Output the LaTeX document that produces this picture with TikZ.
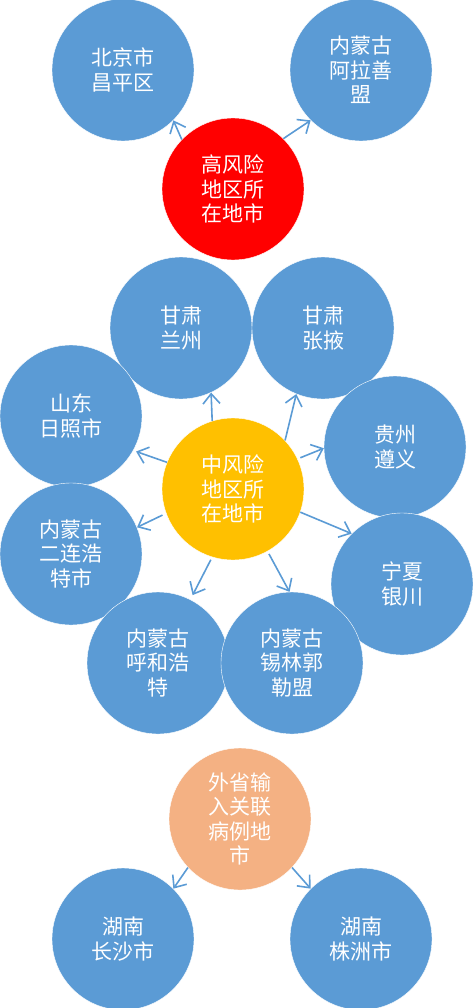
\documentclass[tikz,border=0pt]{standalone}
\usepackage{fontspec}
\setmainfont{Noto Sans CJK SC}
\usepackage{xcolor}
\usetikzlibrary{arrows.meta}
\definecolor{cityblue}{HTML}{5B9BD5}
\definecolor{highred}{HTML}{FF0000}
\definecolor{midgold}{HTML}{FFC000}
\definecolor{impsalmon}{HTML}{F4B183}

\begin{document}
\begin{tikzpicture}[x=1pt,y=-1pt,font=\fontsize{21}{24.5}\selectfont,
  city/.style={circle,fill=cityblue,draw=white,line width=0.4pt,text=white,
    minimum size=142pt,inner sep=0pt,align=center},
  hub/.style={city,fill=#1},
  link/.style={-{Straight Barb[length=10pt,width=17pt]},cityblue,line width=1.6pt}]
  \useasboundingbox (0,0) rectangle (473,1008);

  % high risk
  \node[city] (bj) at (123,70) {北京市\\昌平区};
  \node[city] (alsm) at (361,70) {内蒙古\\阿拉善\\盟};
  \node[hub=highred] (high) at (233,189) {高风险\\地区所\\在地市};
  \draw[link] (high.136) -- (bj.-45);
  \draw[link] (high.45) -- (alsm.-135);

  % medium risk
  \node[city] (lz) at (181,328) {甘肃\\兰州};
  \node[city] (zy) at (323,328) {甘肃\\张掖};
  \node[city] (rz) at (71,416) {山东\\日照市};
  \node[city] (zunyi) at (395,447) {贵州\\遵义};
  \node[city] (elht) at (71,554) {内蒙古\\二连浩\\特市};
  \node[city] (yc) at (402,584) {宁夏\\银川};
  \node[city] (hhht) at (158,663) {内蒙古\\呼和浩\\特};
  \node[city] (xlgl) at (292,663) {内蒙古\\锡林郭\\勒盟};
  \node[hub=midgold] (mid) at (233,489) {中风险\\地区所\\在地市};
  \draw[link] (mid.107) -- (lz.-65);
  \draw[link] (mid.43) -- (zy.-112);
  \draw[link,shorten >=3pt] (mid.158) -- (rz.-29);
  \draw[link,shorten <=4pt] (mid.200) -- (elht.22);
  \draw[link,shorten <=3pt] (mid.25) -- (zunyi.181);
  \draw[link] (mid.-19) -- (yc.135);
  \draw[link,shorten <=3pt,shorten >=5pt] (mid.-107) -- (hhht.63);
  \draw[link,shorten <=3pt] (mid.-61) -- (xlgl.92);

  % imported
  \node[hub=impsalmon] (imp) at (240,819) {外省输\\入关联\\病例地\\市};
  \node[city] (cs) at (123,939) {湖南\\长沙市};
  \node[city] (zz) at (361,939) {湖南\\株洲市};
  \draw[link] (imp.-137) -- (cs.45);
  \draw[link] (imp.-43) -- (zz.135);
\end{tikzpicture}
\end{document}
